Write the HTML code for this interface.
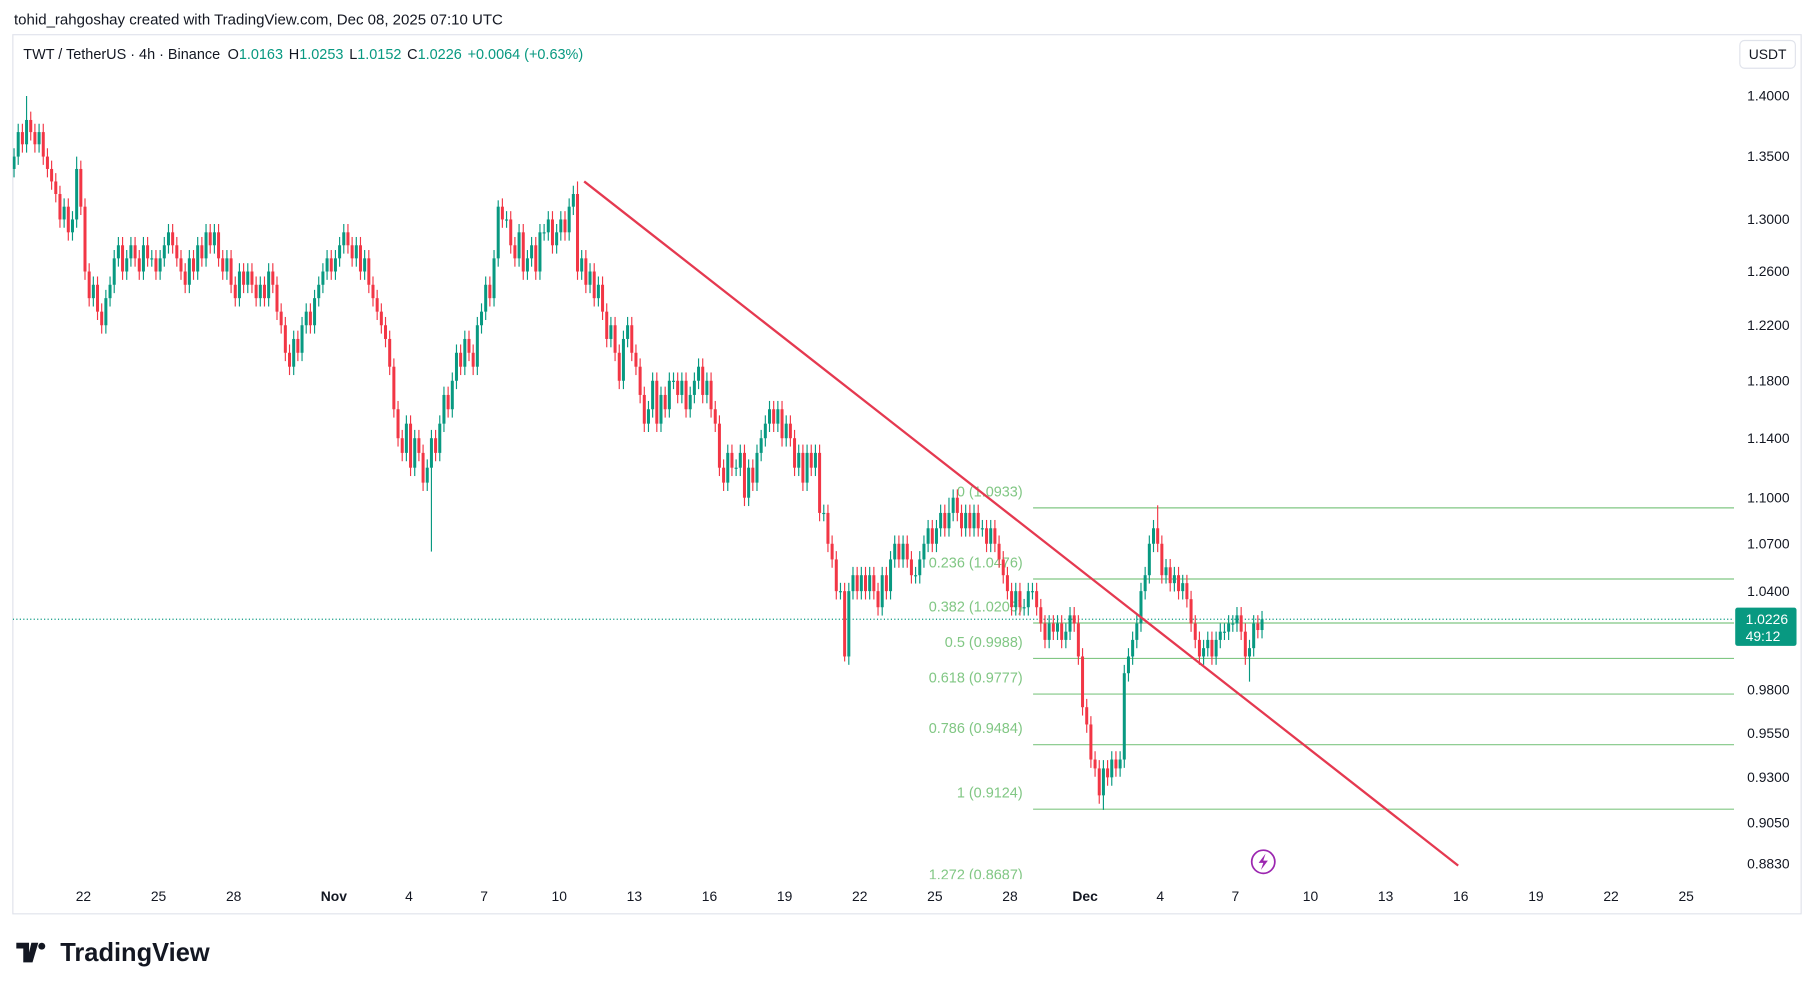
<!DOCTYPE html>
<html><head><meta charset="utf-8"><style>
html,body{margin:0;padding:0;background:#fff;}
svg{display:block;font-family:"Liberation Sans",sans-serif;}
</style></head><body>
<svg id="c" width="1814" height="989" viewBox="0 0 1568 855" xmlns="http://www.w3.org/2000/svg">
<text x="12" y="21" font-size="13" fill="#131722">tohid_rahgoshay created with TradingView.com, Dec 08, 2025 07:10 UTC</text>
<rect x="11" y="30" width="1546" height="760" fill="#fff" stroke="#e0e3eb"/>
<text x="20" y="51" font-size="12.5" fill="#131722">TWT / TetherUS · 4h · Binance <tspan dx="3">O</tspan><tspan fill="#089981">1.0163</tspan><tspan dx="5">H</tspan><tspan fill="#089981">1.0253</tspan><tspan dx="5">L</tspan><tspan fill="#089981">1.0152</tspan><tspan dx="5">C</tspan><tspan fill="#089981">1.0226</tspan><tspan dx="5" fill="#089981">+0.0064 (+0.63%)</tspan></text>
<rect x="1504" y="35" width="48" height="24" rx="4" fill="#fff" stroke="#e0e3eb"/>
<text x="1528" y="51" font-size="12" fill="#131722" text-anchor="middle">USDT</text>
<defs><clipPath id="pane"><rect x="11" y="31" width="1488" height="729"/></clipPath></defs>
<g id="panel" clip-path="url(#pane)"></g>
<g id="axis"></g>
<g>
<path d="M14 815h11v17h-5v-12h-6z M27 815h6l-5 17h-5z" fill="#131722"/>
<circle cx="36" cy="818" r="3" fill="#131722"/>
<text x="52" y="831" font-size="22" font-weight="bold" fill="#131722">TradingView</text>
</g>
</svg>
<script>
const closes=[1.35,1.37,1.36,1.38,1.37,1.36,1.37,1.35,1.34,1.33,
1.32,1.30,1.31,1.29,1.30,1.34,1.31,1.26,1.24,1.25,
1.23,1.22,1.24,1.25,1.27,1.28,1.26,1.27,1.28,1.27,
1.26,1.28,1.27,1.27,1.26,1.27,1.28,1.29,1.28,1.27,
1.26,1.25,1.27,1.26,1.28,1.27,1.29,1.28,1.29,1.27,
1.26,1.27,1.25,1.24,1.26,1.25,1.26,1.25,1.24,1.25,
1.24,1.26,1.25,1.23,1.22,1.20,1.19,1.21,1.20,1.22,
1.23,1.22,1.24,1.25,1.26,1.27,1.26,1.27,1.28,1.29,
1.28,1.27,1.28,1.26,1.27,1.25,1.24,1.23,1.22,1.21,
1.19,1.16,1.14,1.13,1.15,1.12,1.14,1.13,1.11,1.12,
1.14,1.13,1.15,1.17,1.16,1.18,1.20,1.19,1.21,1.20,
1.19,1.22,1.23,1.25,1.24,1.27,1.31,1.30,1.30,1.28,
1.27,1.29,1.26,1.27,1.28,1.26,1.29,1.29,1.30,1.28,
1.29,1.30,1.29,1.31,1.32,1.26,1.27,1.25,1.26,1.24,
1.25,1.23,1.21,1.22,1.20,1.18,1.21,1.22,1.20,1.19,
1.17,1.15,1.16,1.18,1.15,1.17,1.16,1.18,1.18,1.17,
1.18,1.16,1.17,1.18,1.19,1.17,1.18,1.16,1.15,1.12,
1.11,1.13,1.12,1.12,1.13,1.10,1.12,1.11,1.13,1.14,
1.15,1.16,1.15,1.16,1.14,1.15,1.14,1.12,1.13,1.11,
1.13,1.12,1.13,1.09,1.09,1.07,1.06,1.04,1.04,1.00,
1.04,1.05,1.04,1.05,1.04,1.05,1.04,1.03,1.05,1.04,
1.06,1.07,1.06,1.07,1.06,1.05,1.05,1.06,1.07,1.08,
1.07,1.08,1.09,1.08,1.09,1.10,1.09,1.08,1.09,1.08,
1.09,1.08,1.08,1.07,1.08,1.07,1.06,1.05,1.04,1.03,
1.04,1.03,1.03,1.04,1.04,1.03,1.02,1.01,1.02,1.015,
1.02,1.01,1.015,1.025,1.02,1.00,0.97,0.96,0.94,0.935,
0.92,0.935,0.93,0.94,0.935,0.94,0.99,1.00,1.01,1.02,
1.04,1.05,1.07,1.08,1.07,1.05,1.055,1.045,1.05,1.04,
1.045,1.035,1.02,1.01,1.00,1.005,1.01,1.00,1.01,1.015,
1.015,1.02,1.02,1.025,1.015,1.00,1.005,1.02,1.016,1.0226];
const firstOpen=1.34;
const highSpikes={3:1.40,15:1.35,116:1.315,135:1.33,224:1.10,274:1.095};
const lowSpikes={100:1.065,199:0.997,261:0.912,296:0.985};
const priceTicks=[1.4,1.35,1.3,1.26,1.22,1.18,1.14,1.1,1.07,1.04,0.98,0.955,0.93,0.905,0.883];
const dayLabels=["22","25","28","Nov","4","7","10","13","16","19","22","25","28","Dec","4","7","10","13","16","19","22","25"];
const dayOffsets=[0,3,6,10,13,16,19,22,25,28,31,34,37,40,43,46,49,52,55,58,61,64];
const fibRatios=["0","0.236","0.382","0.5","0.618","0.786","1","1.272"];
const fibPrices=[1.0933,1.0476,1.0203,0.9988,0.9777,0.9484,0.9124,0.8687];
const trendStart=[136.6,1.330], trendEnd=[346,0.882];
const lastPrice=1.0226;

const NS="http://www.w3.org/2000/svg";
const y=p=>83+(Math.log(1.4)-Math.log(p))*1440;
const xDay=d=>72+d*21.65;
const xIdx=i=>xDay(-2.77+i/6);
function mk(tag,attrs,parent){const e=document.createElementNS(NS,tag);for(const k in attrs)e.setAttribute(k,attrs[k]);parent.appendChild(e);return e;}
const panel=document.getElementById('panel'), axis=document.getElementById('axis');

fibPrices.forEach((p,k)=>{
  const l=mk('line',{x1:893,x2:1499,y1:y(p),y2:y(p),stroke:'#81c784','stroke-width':1},panel);
  
  
  const t=mk('text',{x:884,y:y(p)-10,'font-size':12.5,fill:'#81c784','text-anchor':'end'},panel);
  t.textContent=fibRatios[k]+" ("+p.toFixed(4)+")";
  
  
});
const lp=mk('line',{x1:11,x2:1499,y1:y(lastPrice),y2:y(lastPrice),stroke:'#089981','stroke-dasharray':'1 2','stroke-width':1},panel);



let prev=firstOpen;
closes.forEach((c,i)=>{
  const o=prev; prev=c;
  const up=c>=o, col=up?'#089981':'#f23645';
  const hi=highSpikes[i]!==undefined?highSpikes[i]:Math.max(o,c)*1.005;
  const lo=lowSpikes[i]!==undefined?lowSpikes[i]:Math.min(o,c)*0.995;
  const x=xIdx(i);
  const g=mk('g',{},panel);
  
  
  mk('line',{x1:x,x2:x,y1:y(hi),y2:y(lo),stroke:col,'stroke-width':1},g);
  const yt=y(Math.max(o,c)), yb=y(Math.min(o,c));
  mk('rect',{x:x-1.3,y:yt,width:2.6,height:Math.max(1,yb-yt),fill:col},g);
});
const tl=mk('line',{x1:xIdx(trendStart[0]),y1:y(trendStart[1]),x2:xIdx(trendEnd[0]),y2:y(trendEnd[1]),stroke:'#e53950','stroke-width':2},panel);



priceTicks.forEach(p=>{
  const t=mk('text',{x:1547,y:y(p)+4,'font-size':12,fill:'#131722','text-anchor':'end'},axis);
  t.textContent=p.toFixed(4);
  
  
});
const pb=mk('rect',{x:1500,y:y(lastPrice)-10,width:53,height:33,rx:2,fill:'#089981'},axis);


const pt=mk('text',{x:1509,y:y(lastPrice)+4,'font-size':12,fill:'#fff'},axis);
pt.textContent=lastPrice.toFixed(4);


const ct=mk('text',{x:1509,y:y(lastPrice)+19,'font-size':12,fill:'#fff'},axis);
ct.textContent="49:12";


dayLabels.forEach((lab,k)=>{
  const bold=(lab==="Nov"||lab==="Dec");
  const t=mk('text',{x:xDay(dayOffsets[k]),y:779,'font-size':12,fill:'#131722','text-anchor':'middle','font-weight':bold?'bold':'normal'},axis);
  t.textContent=lab;
  
  
});
const ic=mk('g',{},axis);


mk('circle',{cx:1092,cy:745,r:10,fill:'#fff',stroke:'#9c27b0','stroke-width':1.5},ic);
mk('path',{d:'M1094 738l-6 8h4l-2 6 6-8h-4z',fill:'#9c27b0'},ic);
</script>
</body></html>
